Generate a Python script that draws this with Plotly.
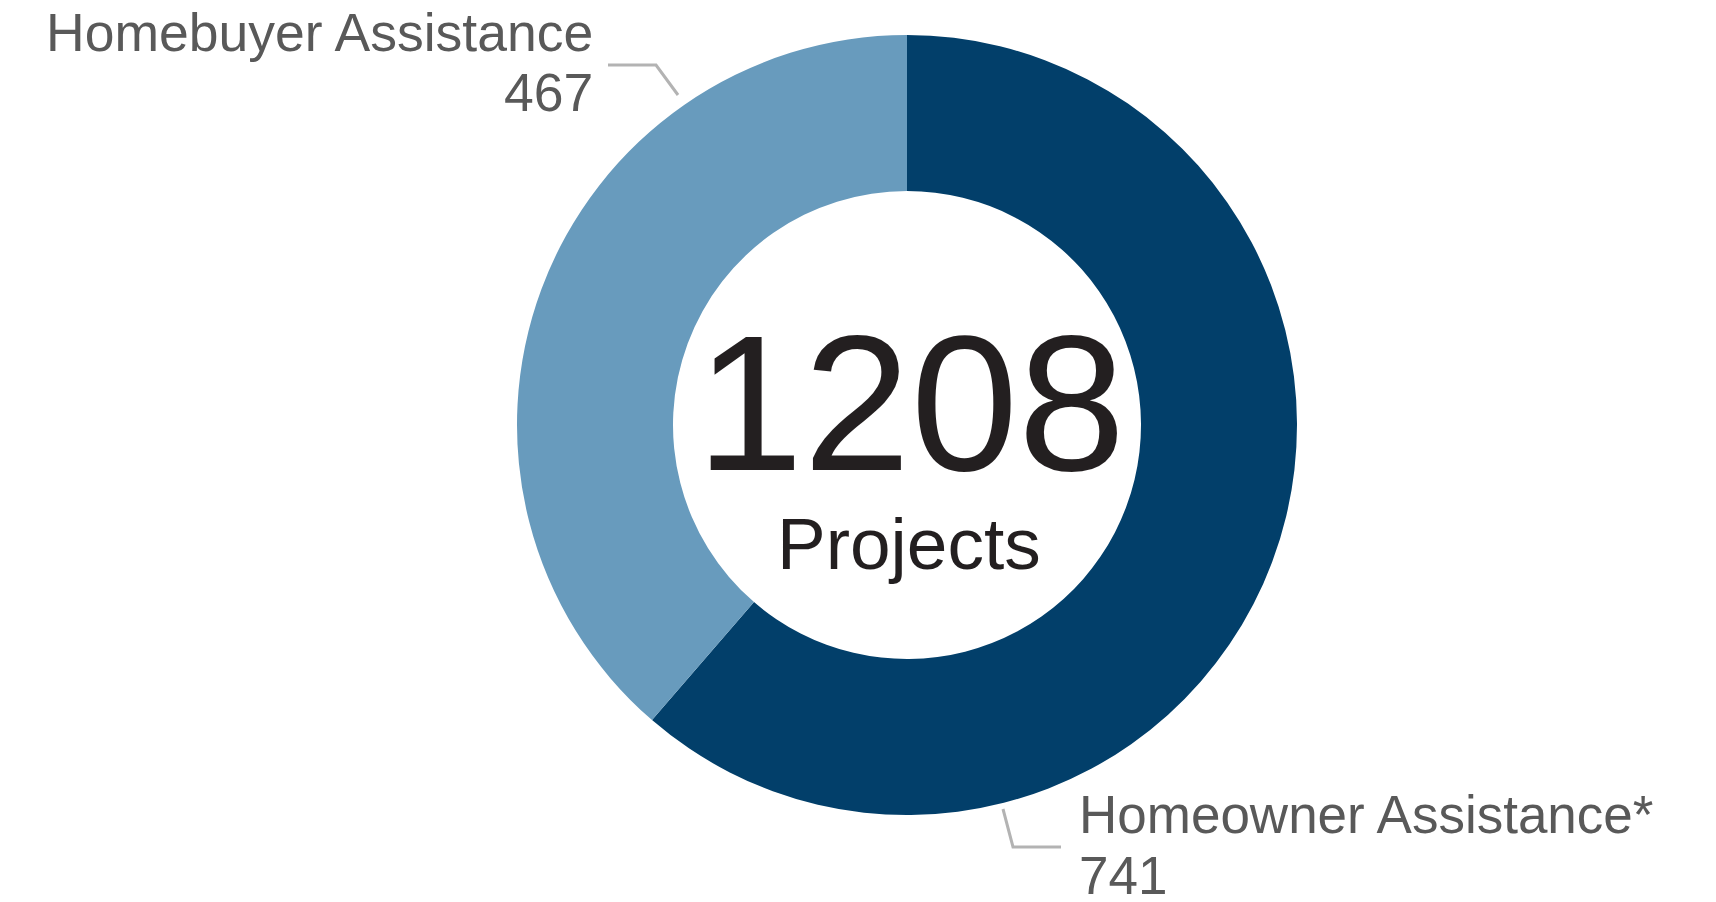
import plotly.graph_objects as go

# Data
categories = ["Homeowner Assistance*", "Homebuyer Assistance"]
values = [741, 467]
total_label = "1208"
total_caption = "Projects"
colors = ["#023F6A", "#689BBD"]

W, H = 1716, 902

def px(x):
    return x / W

def py(y):
    return 1 - y / H

fig = go.Figure()
fig.add_trace(go.Pie(
    labels=categories,
    values=values,
    hole=0.6,
    sort=False,
    direction="clockwise",
    rotation=0,
    textinfo="none",
    hoverinfo="label+value",
    marker=dict(colors=colors, line=dict(width=0)),
    showlegend=False,
    domain=dict(x=[px(509), px(1289)], y=[py(807), py(27)]),
))

font_lbl = "Liberation Sans, Arial, sans-serif"
gray = "#595959"
dark = "#231F20"

annotations = [
    dict(x=px(902), y=py(395), text=total_label, font=dict(size=193, color=dark, family=font_lbl)),
    dict(x=px(901), y=py(535), text=total_caption, font=dict(size=73, color=dark, family=font_lbl)),
    dict(x=px(587), y=py(24), text=categories[1], xanchor="right",
         font=dict(size=53.5, color=gray, family=font_lbl)),
    dict(x=px(587), y=py(84), text=str(values[1]), xanchor="right", font=dict(size=53.5, color=gray, family=font_lbl)),
    dict(x=px(1069), y=py(806), text=categories[0], xanchor="left", font=dict(size=53, color=gray, family=font_lbl)),
    dict(x=px(1069), y=py(867), text=str(values[0]), xanchor="left", font=dict(size=53, color=gray, family=font_lbl)),
]
for a in annotations:
    a.update(xref="paper", yref="paper", showarrow=False)
    a.setdefault("yanchor", "middle")
    a.setdefault("xanchor", "center")

line_style = dict(color="#B3B3B3", width=3)
shapes = [
    dict(type="path", xref="paper", yref="paper",
         path=f"M {px(600)} {py(57)} L {px(648)} {py(57)} L {px(670)} {py(87)}",
         line=line_style),
    dict(type="path", xref="paper", yref="paper",
         path=f"M {px(995)} {py(801)} L {px(1005)} {py(839)} L {px(1053)} {py(839)}",
         line=line_style),
]

fig.update_layout(
    width=W, height=H,
    margin=dict(l=0, r=0, t=0, b=0),
    paper_bgcolor="white",
    plot_bgcolor="white",
    annotations=annotations,
    shapes=shapes,
)

fig.write_html("out.html")
